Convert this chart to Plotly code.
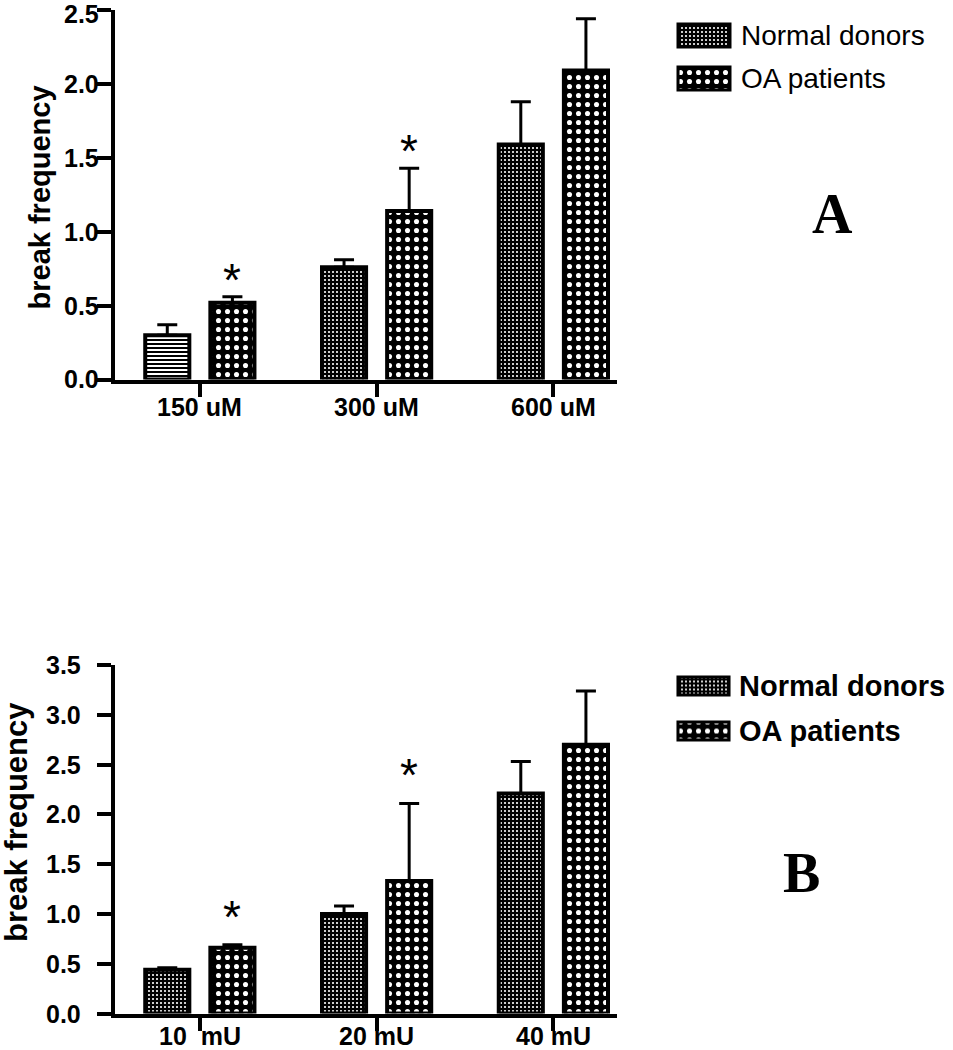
import plotly.graph_objects as go

# ─────────────────────────────────────────────────────────────
#  DATA
# ─────────────────────────────────────────────────────────────
series_names = ["Normal donors", "OA patients"]

doses_a = ["150 uM", "300 uM", "600 uM"]
normal_a = [0.30, 0.76, 1.59]
normal_a_sd = [0.07, 0.05, 0.29]
oa_a = [0.52, 1.14, 2.09]
oa_a_sd = [0.04, 0.29, 0.35]
signif_a = [True, True, False]

doses_b = ["10  mU", "20 mU", "40 mU"]
normal_b = [0.44, 1.00, 2.21]
normal_b_sd = [0.02, 0.08, 0.32]
oa_b = [0.66, 1.33, 2.70]
oa_b_sd = [0.03, 0.78, 0.54]
signif_b = [True, True, False]

yticks_a = [0.0, 0.5, 1.0, 1.5, 2.0, 2.5]
yticks_b = [0.0, 0.5, 1.0, 1.5, 2.0, 2.5, 3.0, 3.5]

# ─────────────────────────────────────────────────────────────
#  LAYOUT HELPERS (pixel -> paper)
# ─────────────────────────────────────────────────────────────
W, H = 953, 1050
BARGAP = 0.263
OFFSET = (1 - BARGAP) / 4   # centre of 2nd bar relative to category
NBSP = "\u00a0"


def px_x(x):
    return x / W


def px_y(y):
    return 1 - y / H


SANS = "Liberation Sans, Arial, sans-serif"
SERIF = "Liberation Serif, Times New Roman, serif"

DOT_N = dict(shape=".", fgcolor="white", bgcolor="black", fgopacity=1,
             fillmode="replace", size=4, solidity=0.22)
DOT_OA = dict(shape=".", fgcolor="white", bgcolor="black", fgopacity=1,
              fillmode="replace", size=9, solidity=0.25)


def add_panel(fig, n, cats, normal, normal_sd, oa, oa_sd, normal_pattern):
    xa, ya = (f"x{n}", f"y{n}") if n > 1 else ("x", "y")
    err = dict(type="data", symmetric=False, color="black", thickness=3, width=10)
    fig.add_trace(go.Bar(
        x=cats, y=normal, name=series_names[0], xaxis=xa, yaxis=ya,
        marker=dict(color="black", line=dict(color="black", width=4), pattern=normal_pattern),
        error_y=dict(err, array=normal_sd, arrayminus=[0] * len(cats)),
        showlegend=False,
    ))
    fig.add_trace(go.Bar(
        x=cats, y=oa, name=series_names[1], xaxis=xa, yaxis=ya,
        marker=dict(color="black", line=dict(color="black", width=4), pattern=DOT_OA),
        error_y=dict(err, array=oa_sd, arrayminus=[0] * len(cats)),
        showlegend=False,
    ))


fig = go.Figure()

# panel A: the first Normal bar has a "brick" fill
pattern_a = dict(
    shape=["-", ".", "."],
    fgcolor=["black", "white", "white"],
    bgcolor=["white", "black", "black"],
    fgopacity=1, fillmode="replace",
    size=[4, 4, 4],
    solidity=[0.5, 0.22, 0.22],
)
add_panel(fig, 1, doses_a, normal_a, normal_a_sd, oa_a, oa_a_sd, pattern_a)
add_panel(fig, 2, doses_b, normal_b, normal_b_sd, oa_b, oa_b_sd, DOT_N)

# legend swatches drawn as tiny horizontal bars
leg_pattern = dict(
    shape=[".", "."], fgcolor=["white", "white"], bgcolor=["black", "black"],
    fgopacity=1, fillmode="replace", size=[4, 9], solidity=[0.22, 0.25],
)
for n, width in [(3, 0.535), (4, 0.4)]:
    fig.add_trace(go.Bar(
        y=series_names, x=[1, 1], orientation="h", width=width,
        xaxis=f"x{n}", yaxis=f"y{n}",
        marker=dict(color="black", line=dict(color="black", width=3), pattern=leg_pattern),
        showlegend=False, hoverinfo="skip",
    ))

common_x = dict(
    type="category", range=[-0.48, 2.36], showline=True, linewidth=4, linecolor="black",
    ticks="outside", ticklen=13, tickwidth=4, tickcolor="black", showticklabels=False,
    showgrid=False, zeroline=False, fixedrange=True, automargin=False,
)
common_y = dict(
    showline=True, linewidth=4, linecolor="black", ticks="outside", ticklen=14,
    tickwidth=4, tickcolor="black", showgrid=False, zeroline=False,
    showticklabels=False, fixedrange=True, automargin=False,
)
hidden = dict(visible=False, fixedrange=True, automargin=False)

fig.update_layout(
    width=W, height=H,
    margin=dict(l=0, r=0, t=0, b=0, autoexpand=False),
    paper_bgcolor="white", plot_bgcolor="white",
    barmode="group", bargap=BARGAP, bargroupgap=0.323,
    showlegend=False,
    xaxis=dict(common_x, domain=[px_x(115), px_x(617)], anchor="y"),
    yaxis=dict(common_y, domain=[px_y(379.5), px_y(10)], anchor="x",
               range=[0, 2.5], tickvals=yticks_a),
    xaxis2=dict(common_x, domain=[px_x(115), px_x(617)], anchor="y2"),
    yaxis2=dict(common_y, domain=[px_y(1013.5), px_y(665)], anchor="x2",
                range=[0, 3.5], tickvals=yticks_b),
    xaxis3=dict(hidden, domain=[px_x(676), px_x(732)], anchor="y3", range=[-0.0385, 1.0385]),
    yaxis3=dict(hidden, domain=[px_y(100), px_y(14)], anchor="x3", type="category",
                range=[1.5, -0.5]),
    xaxis4=dict(hidden, domain=[px_x(676), px_x(731)], anchor="y4", range=[-0.0385, 1.0385]),
    yaxis4=dict(hidden, domain=[px_y(753.5), px_y(663.5)], anchor="x4", type="category",
                range=[1.5, -0.5]),
)

ann = []
tick_font = dict(family=SANS, size=25, color="black", weight="bold")

# category labels under the x axes
for xr, cats, yc in [("x", doses_a, 407), ("x2", doses_b, 1036)]:
    for cat in cats:
        ann.append(dict(xref=xr, yref="paper", x=cat, y=px_y(yc),
                        text=cat.replace("  ", NBSP * 2), showarrow=False,
                        xanchor="center", yanchor="middle", font=tick_font))

# value labels left of the y axes (top label nudged so it stays on the page)
for yr, ticks, right in [("y", yticks_a, 101), ("y2", yticks_b, 83)]:
    for t in ticks:
        ann.append(dict(xref="paper", yref=yr, x=px_x(right), y=t,
                        yshift=-4 if (yr == "y" and t == ticks[-1]) else 0,
                        text=f"{t:.1f}", showarrow=False,
                        xanchor="right", yanchor="middle", font=tick_font))

# significance stars over OA bars
for xr, yr, vals, sds, sig, shift in [
    ("x", "y", oa_a, oa_a_sd, signif_a, -11),
    ("x2", "y2", oa_b, oa_b_sd, signif_b, 0),
]:
    for i, (v, s, flag) in enumerate(zip(vals, sds, sig)):
        if flag:
            ann.append(dict(xref=xr, yref=yr, x=i + OFFSET, y=v + s, yshift=shift,
                            text="*", showarrow=False, xanchor="center", yanchor="bottom",
                            font=dict(family=SANS, size=46, color="black")))

# axis titles
ann.append(dict(xref="paper", yref="paper", x=px_x(39), y=px_y(197.5), text="break frequency",
                textangle=-90, showarrow=False, xanchor="center", yanchor="middle",
                font=dict(family=SANS, size=29, color="black", weight="bold")))
ann.append(dict(xref="paper", yref="paper", x=px_x(16), y=px_y(822), text="break frequency",
                textangle=-90, showarrow=False, xanchor="center", yanchor="middle",
                font=dict(family=SANS, size=31, color="black", weight="bold")))

# legend labels
for name, yc in zip(series_names, [36, 79]):
    ann.append(dict(xref="paper", yref="paper", x=px_x(739), y=px_y(yc), text=name,
                    showarrow=False, xanchor="left", yanchor="middle",
                    font=dict(family=SANS, size=28, color="black")))
for name, yc in zip(series_names, [686, 731]):
    ann.append(dict(xref="paper", yref="paper", x=px_x(737), y=px_y(yc), text=name,
                    showarrow=False, xanchor="left", yanchor="middle",
                    font=dict(family=SANS, size=29, color="black", weight="bold")))

# panel letters
ann.append(dict(xref="paper", yref="paper", x=px_x(832), y=px_y(214), text="A",
                showarrow=False, xanchor="center", yanchor="middle",
                font=dict(family=SERIF, size=56, color="black", weight="bold")))
ann.append(dict(xref="paper", yref="paper", x=px_x(801), y=px_y(873), text="B",
                showarrow=False, xanchor="center", yanchor="middle",
                font=dict(family=SERIF, size=56, color="black", weight="bold")))

fig.update_layout(annotations=ann)

# page body has a default 8px margin; drop it so the figure sits at (0, 0)
fig.write_html("out.html", config={"displayModeBar": False},
               post_script="document.body.style.margin = '0';")
